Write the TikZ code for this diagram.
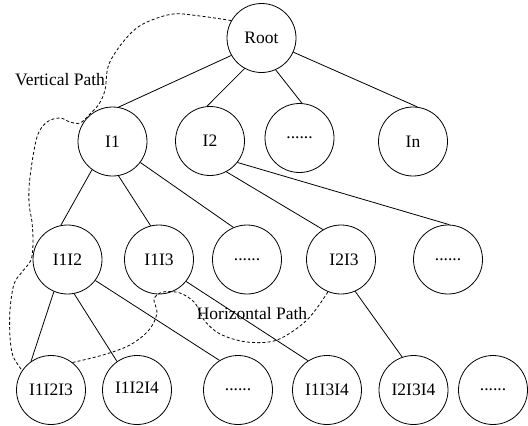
\documentclass[tikz,border=0pt]{standalone}
\usepackage{fontspec}
\setmainfont{Liberation Serif}
\begin{document}
\begin{tikzpicture}[x=1pt,y=-1pt,
  every node/.style={font=\fontsize{17.5}{21}\selectfont},
  tnode/.style={draw,circle,line width=0.8pt,minimum size=69pt,inner sep=0pt},
  link/.style={line width=0.8pt},
  route/.style={line width=0.8pt,dash pattern=on 3pt off 2.2pt}]
\useasboundingbox (0,0) rectangle (528,426);

% level 0 and 1
\node[tnode] (root) at (261.5,38) {Root};
\node[tnode] (i1) at (112.5,141.5) {I1};
\node[tnode] (i2) at (210,141) {I2};
\node[tnode] (d1) at (299.5,138) {......};
\node[tnode] (in) at (413,141.5) {In};

% level 2
\node[tnode] (i1i2) at (67.5,259.5) {I1I2};
\node[tnode] (i1i3) at (159,259.5) {I1I3};
\node[tnode] (d2) at (247,259.5) {......};
\node[tnode] (i2i3) at (341,259.5) {\hspace{6pt}I2I3};
\node[tnode] (d3) at (448,259.5) {......};

% level 3
\node[tnode] (i1i2i3) at (51,390) {I1I2I3};
\node[tnode] (i1i2i4) at (137,390) {\raisebox{4pt}{I1I2I4}};
\node[tnode] (d4) at (238,390) {......};
\node[tnode] (i1i3i4) at (327,390) {I1I3I4};
\node[tnode] (i2i3i4) at (413.5,390) {I2I3I4};
\node[tnode] (d5) at (493,390) {......};

% tree edges
\draw[link] (root.210) -- (i1.80);
\draw[link] (root.241) -- (i2.95);
\draw[link] (root.294) -- (d1.86);
\draw[link] (root.336) -- (in.83);
\draw[link] (i1.234) -- (i1i2.101);
\draw[link] (i1.280) -- (i1i3.104);
\draw[link] (i1.323) -- (d2.113);
\draw[link] (i2.298) -- (i2i3.121);
\draw[link] (i2.322) -- (d3.88);
\draw[link] (i1i2.247) -- (i1i2i3.125);
\draw[link] (i1i2.281) -- (i1i2i4.125);
\draw[link] (i1i2.323) -- (d4.122);
\draw[link] (i1i3.321) -- (i1i3i4.123);
\draw[link] (i2i3.294) -- (i2i3i4.109);

% dashed search routes
\draw[route] plot[smooth,tension=0.55] coordinates {
  (root.150) (200,16) (173,14) (147,22) (132,32) (117,50) (108,67)
  (105,90) (99,104) (90,114) (80,123) (70,122) (60,118) (47,122)
  (37,137) (30,177) (29,203) (32,222) (33,243) (31,260) (22,272)
  (14,284) (10,310) (10,337) (13,356) (i1i2i3.146)};
\draw[route] plot[smooth,tension=0.55] coordinates {
  (i1i2i3.52) (103,355) (130,345) (149,330) (157,313) (154,299)
  (163,292) (180,293) (195,303) (204,320) (220,334) (247,342)
  (277,340) (307,320) (i2i3.248)};

% route labels
\node (vlab) at (60,80) {Vertical Path};
\node (hlab) at (252,314) {Horizontal Path};
\end{tikzpicture}
\end{document}
